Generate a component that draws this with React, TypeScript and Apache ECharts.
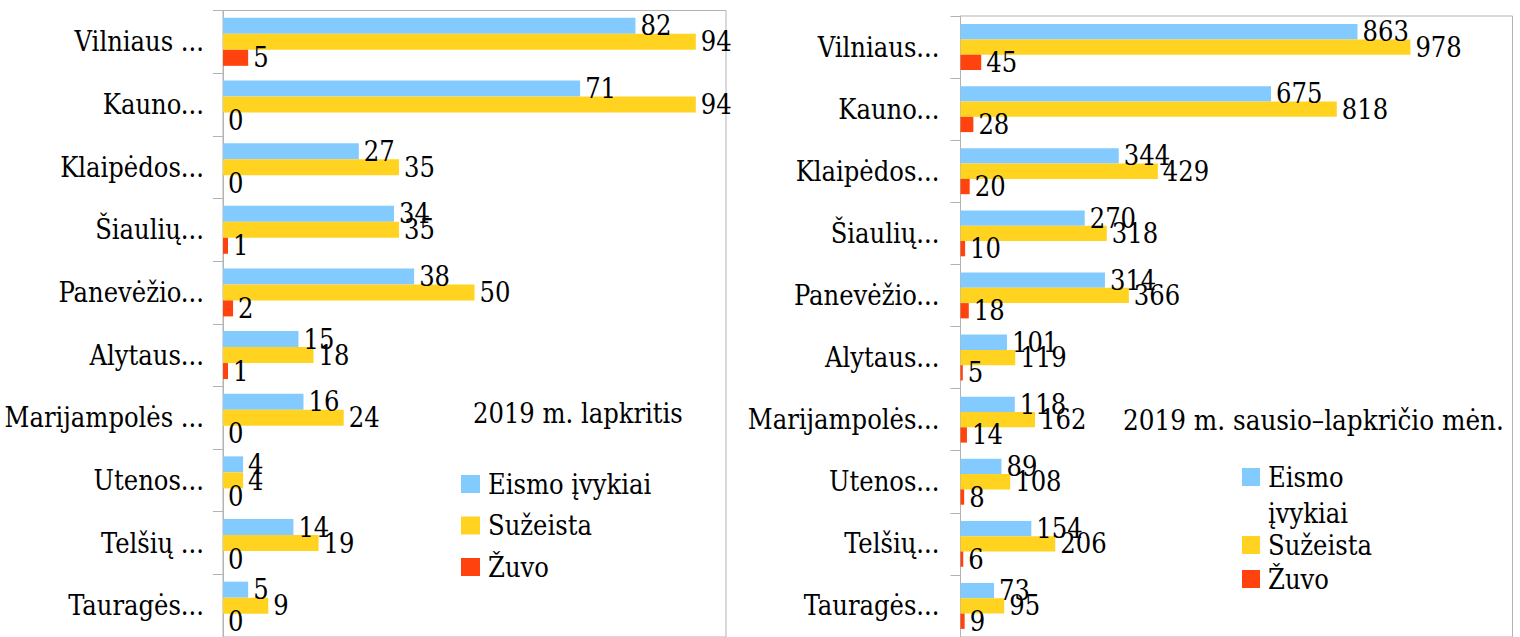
import React, { useEffect, useRef } from "react";
import * as echarts from "echarts";

const leftCategories = ["Vilniaus ...", "Kauno...", "Klaipėdos...", "Šiaulių...", "Panevėžio...", "Alytaus...", "Marijampolės ...", "Utenos...", "Telšių ...", "Tauragės..."];
const rightCategories = ["Vilniaus...", "Kauno...", "Klaipėdos...", "Šiaulių...", "Panevėžio...", "Alytaus...", "Marijampolės...", "Utenos...", "Telšių...", "Tauragės..."];

const seriesNames = ["Eismo įvykiai", "Sužeista", "Žuvo"];
const seriesColors = ["#83caff", "#ffd320", "#ff420e"];

const leftEismo = [82, 71, 27, 34, 38, 15, 16, 4, 14, 5];
const leftSuzeista = [94, 94, 35, 35, 50, 18, 24, 4, 19, 9];
const leftZuvo = [5, 0, 0, 1, 2, 1, 0, 0, 0, 0];

const rightEismo = [863, 675, 344, 270, 314, 101, 118, 89, 154, 73];
const rightSuzeista = [978, 818, 429, 318, 366, 119, 162, 108, 206, 95];
const rightZuvo = [45, 28, 20, 10, 18, 5, 14, 8, 6, 9];

const leftTitle = "2019 m. lapkritis";
const rightTitle = "2019 m. sausio–lapkričio mėn.";

const FONT = "DejaVu Serif Condensed";

export default function App() {
  const ref = useRef<HTMLDivElement>(null);

  useEffect(() => {
    if (!ref.current) return;
    const chart = echarts.init(ref.current, undefined, { renderer: "svg" });

    const txt = { fontFamily: FONT, fontSize: 27, color: "#000" };

    const yAxisBase = (gridIndex: number, data: string[], margin: number) => ({
      type: "category",
      gridIndex,
      data,
      inverse: true,
      axisLine: { show: true, lineStyle: { color: "#b3b3b3", width: 1 } },
      axisTick: { show: true, length: 10, lineStyle: { color: "#b3b3b3" } },
      axisLabel: { ...txt, margin, interval: 0 },
      splitLine: { show: false },
    });

    const makeSeries = (gi: number, arrays: number[][], barWidth: number) =>
      arrays.map((d, i) => ({
        type: "bar",
        name: seriesNames[i],
        xAxisIndex: gi,
        yAxisIndex: gi,
        data: d,
        barWidth,
        barGap: "0%",
        itemStyle: { color: seriesColors[i] },
        label: { show: true, position: "right", distance: 5, ...txt },
      }));

    const legendText = { ...txt, lineHeight: 30, padding: [0, 0, 0, 3] };
    const rightLegend = (name: string, top: number, extra: any = {}) => ({
      data: [name],
      orient: "vertical",
      left: 1242,
      top,
      padding: 0,
      itemWidth: 18,
      itemHeight: 18,
      icon: "rect",
      selectedMode: false,
      textStyle: legendText,
      ...extra,
    });

    chart.setOption({
      animation: false,
      textStyle: { fontFamily: FONT },
      title: [
        { text: leftTitle, left: 473, top: 398, padding: 0, textStyle: { ...txt, fontWeight: "normal", lineHeight: 30 } },
        { text: rightTitle, left: 1123, top: 405, padding: 0, textStyle: { ...txt, fontSize: 27.5, fontWeight: "normal", lineHeight: 30 } },
      ],
      legend: [
        {
          data: seriesNames,
          orient: "vertical",
          left: 461,
          top: 469,
          padding: 0,
          itemWidth: 19,
          itemHeight: 18,
          itemGap: 11.5,
          icon: "rect",
          selectedMode: false,
          textStyle: legendText,
        },
        rightLegend(seriesNames[0], 423, {
          formatter: () => " \nEismo\nįvykiai",
          textStyle: { ...legendText, lineHeight: 36 },
        }),
        rightLegend(seriesNames[1], 530),
        rightLegend(seriesNames[2], 564),
      ],
      grid: [
        { left: 223, top: 10.5, width: 503, height: 632, show: true, borderColor: "#b3b3b3", borderWidth: 1, containLabel: false },
        { left: 960.5, top: 16, width: 552, height: 631, show: true, borderColor: "#b3b3b3", borderWidth: 1, containLabel: false },
      ],
      xAxis: [
        { type: "value", gridIndex: 0, min: 0, max: 100, show: false, splitLine: { show: false } },
        { type: "value", gridIndex: 1, min: 0, max: 1200, show: false, splitLine: { show: false } },
      ],
      yAxis: [yAxisBase(0, leftCategories, 19), yAxisBase(1, rightCategories, 21)],
      series: [
        ...makeSeries(0, [leftEismo, leftSuzeista, leftZuvo], 16),
        ...makeSeries(1, [rightEismo, rightSuzeista, rightZuvo], 15.3),
      ],
    });

    return () => chart.dispose();
  }, []);

  return (
    <div
      ref={ref}
      style={{ position: "fixed", left: 0, top: 0, width: 1520, height: 637, background: "#fff" }}
    />
  );
}
